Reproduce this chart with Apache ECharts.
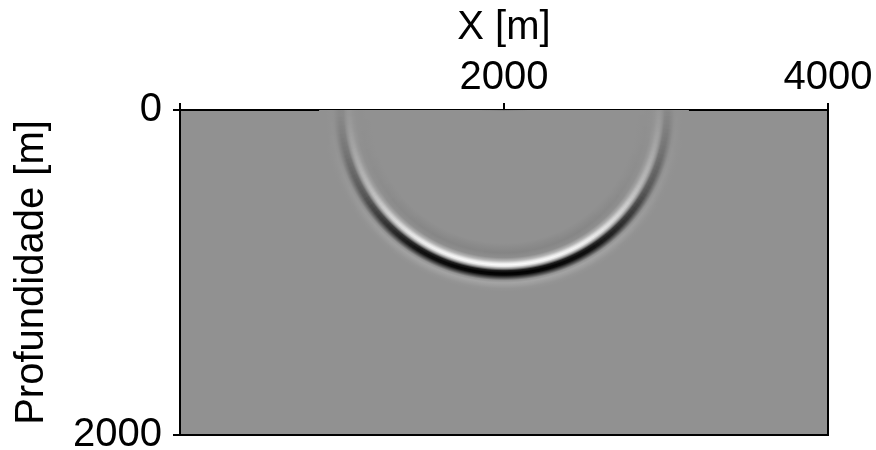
<!DOCTYPE html>
<html>
<head>
<meta charset="utf-8">
<script src="https://cdn.jsdelivr.net/npm/echarts@6/dist/echarts.min.js"></script>
<style>html,body{margin:0;padding:0;background:#fff}#c{width:876px;height:450px}</style>
</head>
<body>
<div id="c"></div>
<script>
// Source position (m)
const sourceX = [2000];
const sourceDepth = [0];
// Wavefront profile: radius from source (m) and amplitude (+ white, - black)
const wavefrontRadius    = [0, 820, 850, 880, 910, 930, 945, 955, 965, 978, 990, 1005, 1018, 1035, 1050, 1065, 1080, 1100, 1120, 1140];
const wavefrontAmplitude = [0, 0, -0.04, -0.08, -0.02, 0.35, 0.85, 1.0, 0.8, 0, -0.8, -1.0, -0.95, -0.45, 0.02, 0.18, 0.12, 0.03, 0, 0];
// Amplitude gain with depth along the wavefront
const gainDepth = [0, 120, 250, 500, 700, 850, 1000];
const gainValue = [0.05, 0.12, 0.2, 0.4, 0.68, 0.9, 1.0];
// Axis ticks
const xTicks = [2000, 4000];
const yTicks = [0, 2000];

const BG = 145;
function ampColor(a) {
  const v = Math.round(a >= 0 ? BG + a * 105 : BG + a * 145);
  return 'rgb(' + v + ',' + v + ',' + v + ')';
}
function gainAt(d) {
  if (d <= gainDepth[0]) return gainValue[0];
  for (let i = 1; i < gainDepth.length; i++) {
    if (d <= gainDepth[i]) {
      const t = (d - gainDepth[i - 1]) / (gainDepth[i] - gainDepth[i - 1]);
      return gainValue[i - 1] + t * (gainValue[i] - gainValue[i - 1]);
    }
  }
  return gainValue[gainValue.length - 1];
}

const chart = echarts.init(document.getElementById('c'));
const font = "'Liberation Sans', Arial, sans-serif";
const maxR = wavefrontRadius[wavefrontRadius.length - 1];
const plain = v => String(v);
const WEDGES = 120;

chart.setOption({
  animation: false,
  backgroundColor: '#fff',
  grid: {
    left: 180, top: 110, right: 48, bottom: 15,
    outerBoundsMode: 'none', containLabel: false,
    show: true, backgroundColor: 'rgb(145,145,145)',
    borderColor: '#000', borderWidth: 2
  },
  xAxis: {
    type: 'value', position: 'top', min: 0, max: 4000, interval: 2000,
    name: 'X [m]', nameLocation: 'middle', nameGap: 62,
    nameTextStyle: { fontSize: 40, color: '#000', fontFamily: font },
    axisLine: { show: true, lineStyle: { color: '#000', width: 2 } },
    axisTick: { show: true, length: 7, lineStyle: { color: '#000', width: 2 } },
    axisLabel: { customValues: xTicks, formatter: plain, fontSize: 40, color: '#000', fontFamily: font, margin: 12 },
    splitLine: { show: false }
  },
  yAxis: {
    type: 'value', inverse: true, min: 0, max: 2000, interval: 2000,
    name: 'Profundidade [m]', nameLocation: 'middle', nameGap: 128, nameRotate: 90,
    nameTextStyle: { fontSize: 40, color: '#000', fontFamily: font },
    axisLine: { show: true, lineStyle: { color: '#000', width: 2 } },
    axisTick: { show: true, length: 7, lineStyle: { color: '#000', width: 2 } },
    axisLabel: { customValues: yTicks, formatter: plain, fontSize: 40, color: '#000', fontFamily: font, margin: 18 },
    splitLine: { show: false }
  },
  series: [{
    type: 'custom',
    coordinateSystem: 'cartesian2d',
    clip: true,
    data: sourceX.map((x, i) => [x, sourceDepth[i]]),
    renderItem: function (params, api) {
      const c = api.coord([api.value(0), api.value(1)]);
      const sz = api.size([maxR, maxR]);
      const R = (sz[0] + sz[1]) / 2;
      const children = [];
      const step = Math.PI / WEDGES;
      for (let k = 0; k < WEDGES; k++) {
        const a0 = k * step, a1 = (k + 1) * step;
        const am = (a0 + a1) / 2;
        const g = gainAt(1000 * Math.sin(am));
        const stops = wavefrontRadius.map((r, i) => ({ offset: r / maxR, color: ampColor(wavefrontAmplitude[i] * g) }));
        children.push({
          type: 'sector',
          shape: { cx: c[0], cy: c[1], r0: 0, r: R, startAngle: Math.max(0, a0 - step * 0.6), endAngle: Math.min(Math.PI, a1 + step * 0.6), clockwise: true },
          style: { fill: new echarts.graphic.RadialGradient(c[0], c[1], R, stops, true) }
        });
      }
      return { type: 'group', children: children };
    }
  }]
});
</script>
</body>
</html>
